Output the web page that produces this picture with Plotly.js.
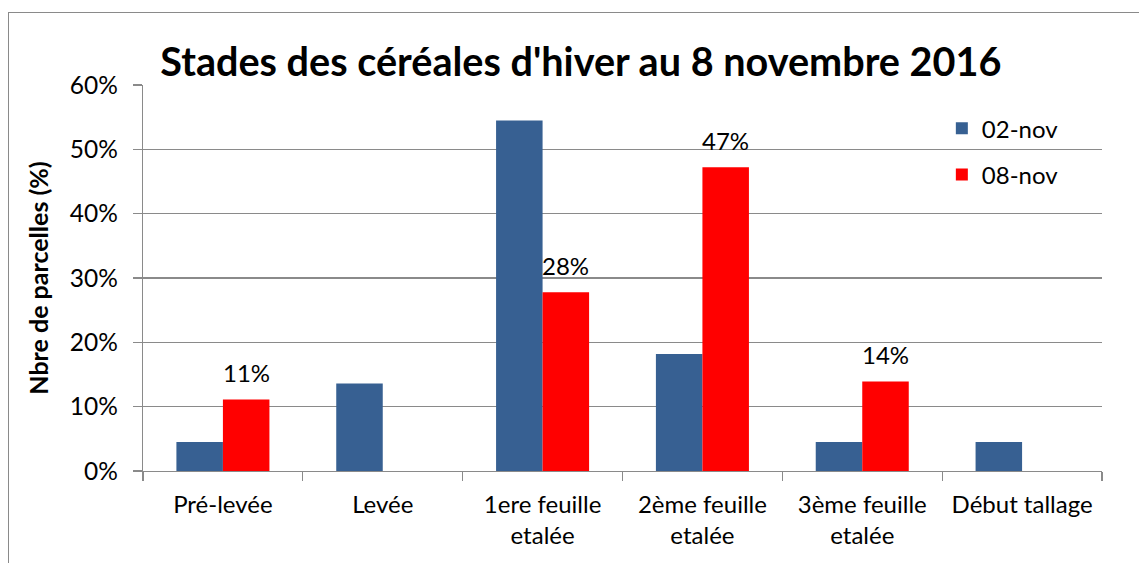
<!DOCTYPE html>
<html>
<head>
<meta charset="utf-8">
<script src="https://cdn.plot.ly/plotly-3.0.1.min.js"></script>
<style>
  html, body { margin: 0; padding: 0; background: #ffffff; }
  #wrap { position: relative; width: 1139px; height: 563px; overflow: hidden; }
  #chart { width: 1139px; height: 563px; }
  #frame { position: absolute; left: 8px; top: 12px; width: 1300px; height: 700px;
           border-left: 1px solid #8a8a8a; border-top: 1px solid #8a8a8a; pointer-events: none; }
</style>
</head>
<body>
<div id="wrap">
  <div id="chart"></div>
  <div id="frame"></div>
</div>
<script>
const categories = ["Pré-levée", "Levée", "1ere feuille<br>etalée", "2ème feuille<br>etalée", "3ème feuille<br>etalée", "Début tallage"];
const series1Name = "02-nov";
const series1 = [0.045, 0.136, 0.545, 0.182, 0.045, 0.045];
const series2Name = "08-nov";
const series2 = [0.111, 0, 0.278, 0.472, 0.139, 0];
const series2Labels = ["11%", "", "28%", "47%", "14%", ""];
const yTickVals = [0, 0.1, 0.2, 0.3, 0.4, 0.5, 0.6];
const yTickText = ["0%", "10%", "20%", "30%", "40%", "50%", "60%"];

const FONT = "Lato, 'Open Sans', sans-serif";
const GRID = "#8a8a8a";
const W = 1139, H = 563;
const M = { l: 143, r: 37, t: 85, b: 92 };
const BARGAP = 0.418;

const plotW = W - M.l - M.r;
const catW = plotW / categories.length;
const barW = catW * (1 - BARGAP) / 2;

const traces = [
  {
    type: "bar", name: series1Name, x: categories, y: series1,
    marker: { color: "#376092" },
    hoverinfo: "skip", legendgroup: "a"
  },
  {
    type: "bar", name: series2Name, x: categories, y: series2,
    marker: { color: "#ff0000" },
    hoverinfo: "skip", legendgroup: "b"
  }
];

const annotations = series2Labels.map((t, i) => ({
  x: categories[i], y: series2[i], xref: "x", yref: "y",
  text: t, showarrow: false, xanchor: "center", yanchor: "middle",
  xshift: barW / 2, yshift: 27,
  font: { family: FONT, size: 24, color: "#000000" }
})).filter(a => a.text !== "");

const layout = {
  width: W, height: H,
  margin: M,
  paper_bgcolor: "rgba(0,0,0,0)", plot_bgcolor: "#ffffff",
  font: { family: FONT, size: 24, color: "#000000" },
  barmode: "group", bargap: BARGAP, bargroupgap: 0,
  title: {
    text: "<b>Stades des céréales d'hiver au 8 novembre 2016</b>",
    font: { family: FONT, size: 39.6, color: "#000000" },
    xref: "container", x: 0.51, xanchor: "center",
    yref: "container", y: 0.89, yanchor: "middle"
  },
  xaxis: {
    type: "category", tickson: "boundaries",
    ticks: "outside", ticklen: 9, tickcolor: GRID, tickwidth: 1.3,
    showline: true, linecolor: GRID, linewidth: 1.3,
    showgrid: false, ticklabelstandoff: 12,
    tickfont: { family: FONT, size: 24, color: "#000000" },
    fixedrange: true
  },
  yaxis: {
    range: [0, 0.6], tickvals: yTickVals, ticktext: yTickText,
    ticks: "outside", ticklen: 9, tickcolor: GRID, tickwidth: 1.3,
    showline: true, linecolor: GRID, linewidth: 1.3,
    showgrid: true, gridcolor: GRID, gridwidth: 1.3,
    zeroline: false, ticklabelstandoff: 10,
    tickfont: { family: FONT, size: 24.5, color: "#000000" },
    title: { text: "<b>Nbre de parcelles (%)</b>", font: { family: FONT, size: 25, color: "#000000" }, standoff: 14 },
    fixedrange: true
  },
  legend: {
    x: 0.833, y: 0.945, xanchor: "left", yanchor: "top",
    bgcolor: "rgba(0,0,0,0)", font: { family: FONT, size: 24, color: "#000000" },
    traceorder: "grouped", tracegroupgap: 12
  },
  annotations: annotations,
  showlegend: true
};

Plotly.newPlot("chart", traces, layout, { displayModeBar: false, staticPlot: true });
</script>
</body>
</html>
